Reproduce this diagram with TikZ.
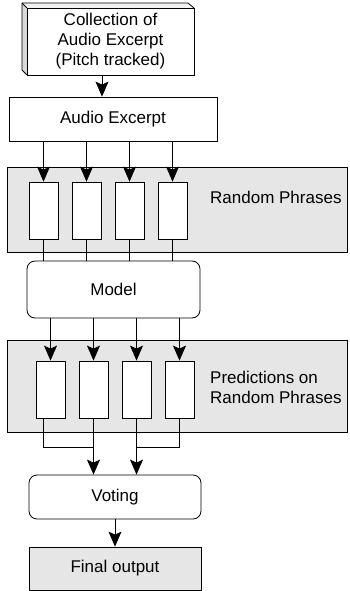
\documentclass[tikz,border=0pt]{standalone}
\usepackage{fontspec}
\setmainfont{Liberation Sans}
\usetikzlibrary{arrows.meta}
\definecolor{bandgray}{HTML}{E6E6E6}
\begin{document}
\begin{tikzpicture}[x=1pt,y=-1pt,
  every node/.style={font=\fontsize{17}{20}\selectfont, inner sep=0pt},
  base/.style={draw=black, line width=0.8pt},
  box/.style={base, fill=white, minimum width=#1, align=center},
  band/.style={base, fill=bandgray, minimum width=340pt},
  slot/.style={base, fill=white, minimum width=29pt, minimum height=57pt},
  rbox/.style={base, fill=white, rounded corners=8pt, minimum width=#1},
  conn/.style={line width=0.8pt},
  arr/.style={conn, -{Stealth[length=15pt,width=13pt,inset=3pt]}}
]
\useasboundingbox (0,0) rectangle (349,591);

% bands
\node[band, minimum height=85pt] (b1) at (177,209.5) {};
\node[band, minimum height=92pt] (b2) at (177,386) {};

% 3D top box
\fill[gray!30] (22,3) -- (27,8) -- (27,75) -- (22,70) -- cycle;
\fill[gray!10] (22,3) -- (188,3) -- (194,8) -- (27,8) -- cycle;
\draw[line width=0.8pt, line join=round] (22,70) -- (22,3) -- (188,3) -- (194,8);
\draw[line width=0.8pt] (22,3) -- (27,8);
\draw[line width=0.8pt] (22,70) -- (27,75);
\node[box=167pt, minimum height=67pt] (top) at (110.5,41.5) {Collection of\\Audio Excerpt\\(Pitch tracked)};

% audio excerpt
\node[box=208pt, minimum height=44pt] (ae) at (113,119) {Audio Excerpt};

% random phrase slots
\foreach \i/\x in {1/43.5,2/86.5,3/129.5,4/172.5}
  \node[slot] (r\i) at (\x,210.5) {};
\node[anchor=west] (rp) at (210,197) {Random Phrases};

% model
\node[rbox=173pt, minimum height=57pt] (model) at (113.5,289.5) {Model};

% prediction slots
\foreach \i/\x in {1/50.5,2/93.5,3/136.5,4/179.5}
  \node[slot] (p\i) at (\x,389.5) {};
\node[anchor=west, align=left] (pr) at (210,387) {Predictions on\\Random Phrases};

% voting and final
\node[rbox=172pt, minimum height=44pt] (vote) at (115,497) {Voting};
\node[box=172pt, minimum height=43pt, fill=bandgray] (final) at (115,568.5) {Final output};

% connectors
\draw[arr] ([xshift=-8.5pt]top.south) -- ([xshift=-8.5pt]top.south |- ae.north);
\foreach \i in {1,...,4} {
  \draw[arr] (r\i.north |- ae.south) -- (r\i.north);
  \draw[conn] (r\i.south) -- (r\i.south |- model.north);
  \draw[arr] (p\i.north |- model.south) -- (p\i.north);
}
\coordinate (j1) at (43,447);
\coordinate (j4) at (179,447);
\draw[conn] (p1.south -| j1) -- (j1) -- (j1 -| p2.south);
\draw[conn] (p4.south -| j4) -- (j4) -- (j4 -| p3.south);
\draw[arr] (p2.south) -- (p2.south |- vote.north);
\draw[arr] (p3.south) -- (p3.south |- vote.north);
\draw[arr] (vote.south) -- (final.north);
\end{tikzpicture}
\end{document}
